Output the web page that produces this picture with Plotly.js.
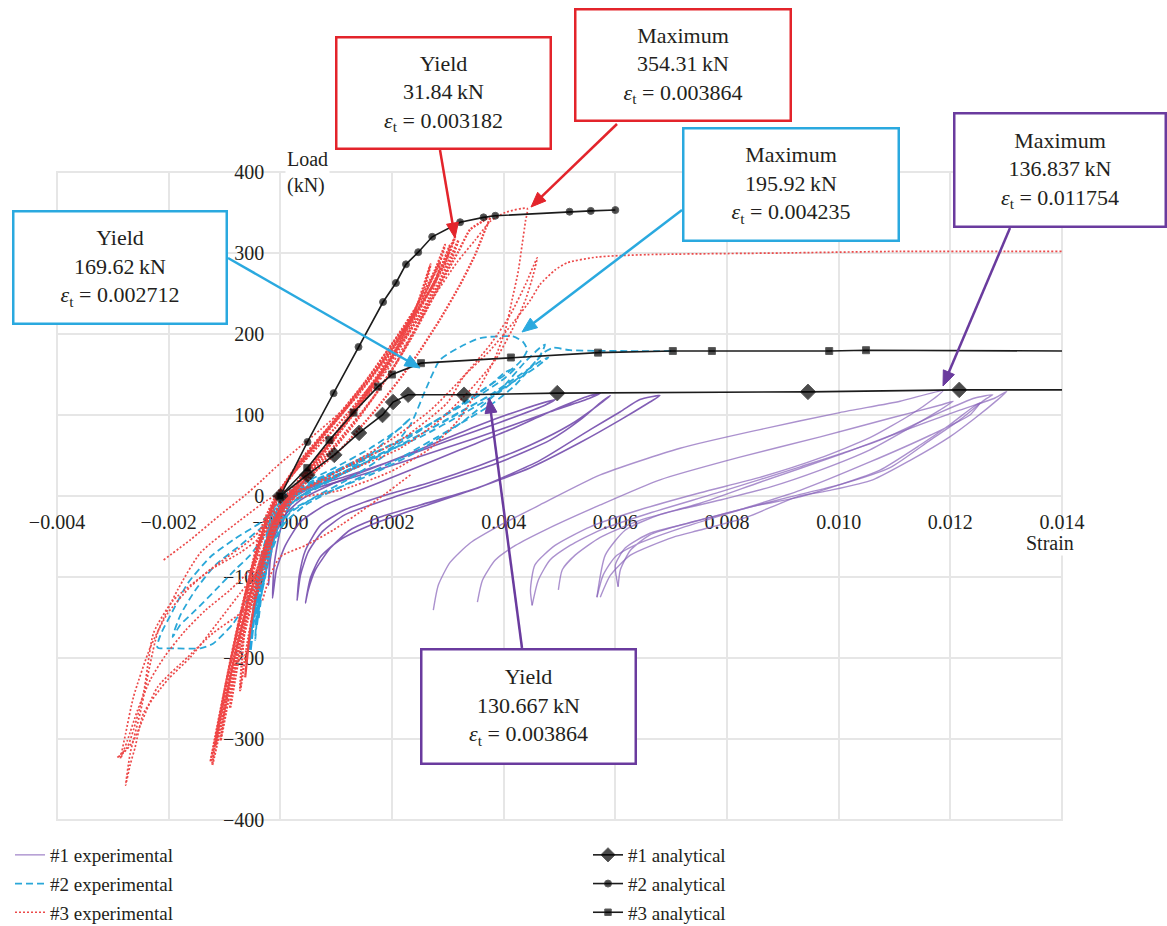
<!DOCTYPE html>
<html>
<head>
<meta charset="utf-8">
<script src="https://cdn.plot.ly/plotly-3.0.1.min.js"></script>
<style>html,body{margin:0;padding:0;background:#fff;}#chart{width:1167px;height:926px;}</style>
</head>
<body>
<div id="chart"></div>
<script>
// ---------- Axis ticks ----------
const xTickVals = [-0.004,-0.002,0,0.002,0.004,0.006,0.008,0.010,0.012,0.014];
const xTickText = ['\u22120.004','\u22120.002','\u22120.000','0.002','0.004','0.006','0.008','0.010','0.012','0.014'];
const yTickVals = [-400,-300,-200,-100,0,100,200,300,400];
const yTickText = ['\u2212400','\u2212300','\u2212200','\u2212100','0','100','200','300','400'];

// ---------- Analytical curves ----------
const an1x = [0,0.000483,0.000967,0.00141,0.00183,0.00202,0.00229,0.00329,0.00496,0.00945,0.01216,0.014];
const an1y = [0,26,50.7,77.9,100,116,125,125,127,128.6,131,131];
const an2x = [0,0.000486,0.000954,0.0014,0.00184,0.00207,0.00225,0.00247,0.00272,0.00322,0.00364,0.00385,0.00518,0.00556,0.006];
const an2y = [0,66.7,127,184,239.5,263,286,301,320,338,344,346,351,352,353];
const an3x = [0,0.000483,0.00088,0.00131,0.00175,0.002,0.00252,0.00413,0.00569,0.00703,0.00773,0.00983,0.01049,0.014];
const an3y = [0,34.6,69,103,135,150,164,171,177,179,179,179,180,179];

// ---------- #1 experimental (purple) ----------
const p1x=[0.00274,0.00283,0.00304,0.0034,0.00394,0.00465,0.00573,0.00716,0.00859,0.01002,0.0111,0.01187,0.01172,0.01128,0.01056,0.00967,0.00859,0.00752,0.00644,0.00555,0.00492,0.00456,0.00448,0.00451];
const p1y=[-141,-110,-82,-58,-36,-11,26,59,82,103,117,130,121,100,72,47,23,4,-17,-38,-61,-85,-116,-135];
const p2x=[0.00353,0.00362,0.00385,0.00421,0.00474,0.00573,0.0068,0.00823,0.00967,0.01092,0.01181,0.01205,0.01181,0.01137,0.01056,0.00967,0.00877,0.00788,0.0068,0.00618,0.00582,0.00567];
const p2y=[-131,-104,-79,-61,-42,-11,20,48,73,96,112,117,106,88,57,32,11,-5,-23,-42,-73,-125];
const p3x=[0.00451,0.00462,0.00483,0.00519,0.00573,0.00662,0.00788,0.00931,0.01074,0.01181,0.01244,0.01276,0.01262,0.01217,0.01164,0.01092,0.01002,0.00913,0.00823,0.00734,0.00662,0.00618,0.006,0.00605];
const p3y=[-135,-104,-79,-61,-42,-21,5,36,69,103,121,125,119,94,69,35,14,-1,-17,-33,-46,-64,-85,-112];
const p4x=[0.00498,0.00505,0.00528,0.00573,0.00644,0.00752,0.00859,0.01002,0.0111,0.01217,0.0128,0.01301,0.01285,0.01244,0.01199,0.01128,0.01061,0.00985,0.00925,0.00836,0.00752,0.00703,0.00627,0.00591,0.00573];
const p4y=[-116,-91,-73,-51,-30,-9,17,51,79,106,121,129,119,96,73,44,20,7,-1,-26,-42,-51,-73,-98,-125];
const p5x=[0.00567,0.00578,0.006,0.00644,0.00716,0.00823,0.00931,0.01056,0.01164,0.01235,0.01253,0.01239,0.01199,0.01146,0.01074,0.01002,0.00931,0.00859,0.00788,0.00716,0.00662,0.00627,0.00609,0.00605];
const p5y=[-125,-98,-75,-58,-40,-17,7,42,75,100,115,109,88,63,32,14,-1,-11,-23,-36,-48,-67,-91,-112];
const s1x=[-0.00014,-0.00007,0.00009,0.00036,0.00081,0.00143,0.00233,0.00322,0.00412,0.00489,0.00555,0.00573,0.00555,0.00483,0.00394,0.00304,0.00215,0.00125,0.00054,0.00018,0,-0.00011,-0.00014];
const s1y=[-126,-91,-61,-32,-11,7,32,57,82,106,124,127,121,104,82,61,41,22,7,-11,-42,-85,-126];
const s2x=[0.0003,0.00036,0.0005,0.00075,0.00116,0.00188,0.00286,0.00394,0.00483,0.00537,0.00573,0.00591,0.00569,0.00519,0.00448,0.00358,0.00269,0.00179,0.00116,0.00072,0.00045,0.00034,0.0003];
const s2y=[-129,-98,-69,-44,-23,-5,17,42,69,94,115,124,112,88,63,38,17,-1,-17,-36,-67,-98,-129];
const s3x=[0.00045,0.00054,0.00072,0.00107,0.00161,0.00251,0.00358,0.00465,0.00555,0.00609,0.00644,0.0068,0.00662,0.00609,0.00537,0.00448,0.0034,0.00251,0.00179,0.00125,0.0009,0.00063,0.0005,0.00045];
const s3y=[-132,-101,-75,-54,-36,-14,11,44,82,104,119,124,116,94,66,35,7,-11,-26,-42,-64,-91,-116,-132];
const s4x=[-0.00021,-0.00018,-0.00009,0.00009,0.00036,0.0009,0.00179,0.00269,0.00358,0.0043,0.00492,0.00474,0.00394,0.00304,0.00215,0.00125,0.00054,0.00018,-0.00004,-0.00018,-0.00021];
const s4y=[-110,-79,-48,-23,-5,14,38,63,88,106,119,112,91,69,47,26,10,-5,-30,-67,-110];

// ---------- #2 experimental (blue) ----------
const b1x=[-0.00054,-0.00047,-0.00036,-0.00021,0,0.00036,0.00107,0.00179,0.00251,0.00322,0.00376,0.00403,0.00421,0.00403,0.00358,0.00286,0.00215,0.00143,0.00072,0.00027,-0.00004,-0.00027,-0.00043,-0.00054];
const b1y=[-178,-129,-79,-42,-11,7,32,57,82,112,137,153,158,146,125,96,69,44,22,5,-23,-67,-129,-178];
const b2x=[-0.00045,-0.00036,-0.00021,0.00004,0.00045,0.00125,0.00215,0.00304,0.00376,0.0043,0.00465,0.0048,0.00456,0.00394,0.00322,0.00233,0.00143,0.00063,0.00018,-0.00009,-0.00032,-0.00045];
const b2y=[-129,-85,-48,-17,4,32,63,96,125,150,166,171,158,131,104,69,38,14,-5,-36,-79,-129];
const b3x=[-0.00039,-0.0003,-0.00014,0.00014,0.00063,0.00125,0.00188,0.00233,0.0026,0.00286,0.00322,0.00358,0.00417,0.00435,0.00442,0.0043,0.00403,0.00358,0.00286,0.00215,0.00143,0.00072,0.00027,0,-0.00021,-0.00036,-0.00039];
const b3y=[-153,-104,-61,-23,-1,22,51,88,131,168,184,195,197,190,180,166,150,129,96,66,38,14,-5,-30,-79,-129,-153];
const b4x=[-0.00032,-0.00018,0.00005,0.00045,0.00125,0.00215,0.00304,0.00376,0.00421,0.00448,0.00474,0.00489,0.00519,0.00609,0.00703];
const b4y=[-116,-73,-36,-11,17,47,82,112,137,158,178,183,180,179,179];
const b5x=[-0.00027,-0.00009,0.00021,0.00072,0.00161,0.00251,0.00331,0.00394,0.00439,0.00465,0.00474,0.00465,0.00439,0.00394,0.00331,0.00251,0.00161,0.00072,0.00018,-0.00014,-0.00027];
const b5y=[-79,-42,-17,1,26,57,94,131,166,183,187,173,153,129,103,73,47,23,5,-17,-79];
const b6x=[-0.00045,-0.00039,-0.00029,-0.00014,0.00009,0.00054,0.00107,0.00161,0.00206,0.00233,0.00215,0.00161,0.00098,0.00036,0.00004,-0.00018,-0.00032,-0.00041,-0.00045];
const b6y=[-178,-129,-79,-42,-15,5,26,51,79,96,84,59,35,14,-2,-30,-79,-129,-178];
const b7x=[-0.00054,-0.00048,-0.00039,-0.00027,-0.00013,0.00004,0.00036,0.0009,0.00143];
const b7y=[-190,-153,-110,-67,-30,-9,7,22,38];
const b8x=[-0.00043,-0.00036,-0.00025,-0.00014,-0.00004,0.00011,0.00045,0.00098,0.00161];
const b8y=[-159,-122,-79,-48,-23,-5,10,30,51];
const bl1x=[0,-0.00036,-0.00084,-0.00125,-0.00166,-0.00192,-0.00215,-0.0022,-0.00188,-0.00143,-0.0012,-0.00084,-0.00059,-0.00041,-0.00027,-0.00014,0];
const bl1y=[-11,-33,-54,-75,-108,-141,-172,-187,-188,-188,-182,-157,-129,-100,-67,-36,-11];
const bl2x=[0,-0.00032,-0.00072,-0.00116,-0.00152,-0.00179,-0.00193,-0.00179,-0.00152,-0.00116,-0.00081,-0.00054,-0.00027,0];
const bl2y=[-20,-38,-61,-85,-116,-147,-174,-159,-141,-116,-91,-73,-48,-23];

// ---------- #3 experimental (red) ----------
const rb1x=[-0.00122,-0.00104,-0.00081,-0.00054,-0.00027,0,0.00036,0.0009,0.00152,0.00215,0.00269,0.00301,0.00313,0.00304,0.00283,0.00242,0.00188,0.00125,0.00063,0.00018,-0.00014,-0.00039,-0.00066,-0.00093,-0.00113,-0.00122];
const rb1y=[-332,-277,-203,-129,-67,-17,20,69,125,187,255,302,320,302,273,224,171,116,63,26,-11,-61,-129,-215,-289,-332];
const rb2x=[-0.0009,-0.00075,-0.00054,-0.0003,-0.00007,0.00021,0.00072,0.00134,0.00197,0.00242,0.00269,0.0026,0.00233,0.00179,0.00116,0.00054,0.00009,-0.00018,-0.00043,-0.00066,-0.00082,-0.0009];
const rb2y=[-262,-203,-141,-79,-30,5,51,106,168,230,286,261,218,162,106,54,14,-23,-79,-153,-215,-262];
const rb3x=[-0.00063,-0.00054,-0.00039,-0.00021,0.00004,0.00036,0.00098,0.0017,0.00233,0.00286,0.00319,0.0034,0.00362,0.00376,0.00367,0.00349,0.00322,0.00286,0.00233,0.0017,0.00107,0.00045,0.00009,-0.00018,-0.00039,-0.00054,-0.00063];
const rb3y=[-224,-166,-104,-54,-15,14,63,125,193,261,302,329,339,345,329,298,261,218,162,106,57,20,-5,-42,-104,-166,-224];
const rb4x=[-0.00116,-0.00098,-0.00075,-0.0005,-0.00023,0.00004,0.00045,0.00107,0.00175,0.00236,0.00277,0.00295,0.00286,0.0026,0.00211,0.00152,0.0009,0.00036,0,-0.00025,-0.0005,-0.00075,-0.001,-0.00116];
const rb4y=[-308,-252,-178,-110,-54,-11,30,84,150,224,279,310,289,252,199,141,88,44,7,-30,-85,-159,-246,-308];
const rb5x=[-0.00072,-0.00061,-0.00045,-0.00027,-0.00005,0.00021,0.00072,0.0014,0.00206,0.0026,0.00299,0.00319,0.00308,0.00281,0.00233,0.0017,0.00098,0.00036,-0.00004,-0.00032,-0.00054,-0.00066,-0.00072];
const rb5y=[-240,-190,-129,-79,-36,-5,38,96,162,230,286,316,294,257,205,143,84,38,5,-36,-98,-178,-240];
const rb6x=[-0.00107,-0.00093,-0.00072,-0.00047,-0.00021,0.00007,0.0005,0.00116,0.00184,0.00242,0.00286,0.00279,0.00251,0.002,0.0014,0.00075,0.00027,-0.00005,-0.00032,-0.00057,-0.00081,-0.00098,-0.00107];
const rb6y=[-302,-252,-184,-116,-61,-15,26,88,156,224,289,267,236,187,129,75,35,-1,-48,-110,-190,-258,-302];
const rb7x=[-0.00125,-0.00111,-0.0009,-0.00066,-0.00039,-0.00013,0.00021,0.00075,0.0014,0.00206,0.00265,0.00304,0.00297,0.00269,0.00218,0.00158,0.00093,0.00039,0.00004,-0.00021,-0.00047,-0.00075,-0.001,-0.00118,-0.00125];
const rb7y=[-328,-283,-221,-153,-85,-33,5,51,109,174,242,310,289,255,199,141,88,44,10,-23,-79,-159,-240,-302,-328];
const rt1x=[-0.00032,0.00004,0.00072,0.00152,0.00224,0.00277,0.00317,0.00349,0.00376,0.00403,0.00442,0.00439,0.00433,0.00426,0.00415,0.00403,0.00383,0.00354,0.00319,0.00269,0.00197,0.00107,0.00018,-0.00032];
const rt1y=[-54,-5,51,119,187,248,289,316,339,350,355,339,310,277,242,205,168,131,94,59,30,7,-5,-30];
const rsx=[0.00036,0.00107,0.00197,0.00269,0.00322,0.00376,0.00412,0.00439,0.0046,0.00453,0.00439,0.00415,0.00385,0.0034,0.00286,0.00215,0.00125,0.00036];
const rsy=[5,32,69,106,143,187,224,261,294,273,242,205,168,131,94,59,32,7];
const rlx=[-0.00009,0.00036,0.00125,0.00215,0.00299,0.00328,0.00376,0.00417,0.00448,0.00465,0.00492,0.00514,0.00567,0.00657,0.00895,0.0111,0.014];
const rly=[-11,7,38,69,115,147,180,214,242,261,279,288,295,298,300,302,302];
const l1x=[0.00009,-0.00023,-0.00072,-0.00143,-0.00184,-0.0022,-0.00251,-0.00269,-0.00277,-0.00269,-0.0026,-0.00245,-0.00202,-0.00161,-0.00113,-0.00072,-0.00039,-0.00018,0,0.00027];
const l1y=[7,-5,-30,-70,-116,-169,-268,-318,-357,-332,-310,-268,-227,-199,-157,-120,-91,-61,-23,7];
const l2x=[0,-0.00048,-0.0012,-0.00192,-0.00227,-0.00245,-0.00274,-0.00292,-0.00279,-0.00263,-0.0022,-0.00166,-0.0012,-0.00072,-0.00045,-0.00027,-0.00009,0.00009];
const l2y=[-11,-51,-88,-129,-169,-243,-310,-323,-316,-302,-236,-199,-169,-145,-126,-91,-42,-11];
const l3x=[0.00018,-0.00013,-0.00036,-0.00072,-0.00125,-0.00161,-0.00202,-0.00233,-0.00263,-0.00277,-0.00286,-0.00274,-0.00256,-0.00233,-0.00206,-0.0017,-0.00134,-0.0009,-0.00054,-0.00027,0];
const l3y=[7,-30,-51,-70,-91,-112,-145,-187,-248,-293,-324,-302,-265,-227,-197,-166,-141,-116,-91,-61,-17];
const l4x=[-0.00209,-0.00161,-0.00107,-0.00063,-0.00032,-0.00009,0.00018,0.00072,0.00143];
const l4y=[-79,-54,-23,1,20,35,51,82,125];
const l5x=[-0.00032,-0.00018,0,0.00045,0.00095,0.00161,0.00233];
const l5y=[-129,-98,-75,-61,-42,-11,26];

// ---------- Styles ----------
const FONT = 'Liberation Serif, Times New Roman, serif';
const purpleLine = {color:'rgba(135,98,185,0.7)', width:1.4, shape:'spline', smoothing:0.6};
const purpleDark = {color:'rgba(108,66,168,0.85)', width:1.6, shape:'spline', smoothing:0.6};
const blueLine = {color:'#2aa7d8', width:1.8, dash:'7px,4px', shape:'spline', smoothing:0.6};
const blueThick = {color:'#22a4e0', width:3.2, dash:'9px,2px', shape:'spline', smoothing:0.6};
const redLine = {color:'#ec4a4a', width:1.7, dash:'2px,2px', shape:'spline', smoothing:0.6};
const redBand = {color:'#ef4545', width:2.3, dash:'2px,1.5px', shape:'spline', smoothing:0.6};

function expTrace(x, y, line, name, group, first) {
  return {x:x, y:y, type:'scatter', mode:'lines', line:line, name:name,
          legendgroup:group, showlegend:first, legend:'legend', hoverinfo:'skip'};
}

const traces = [];
const purpleSet = [[p1x,p1y],[p2x,p2y],[p3x,p3y],[p4x,p4y],[p5x,p5y]];
purpleSet.forEach((d,i)=>traces.push(expTrace(d[0],d[1],purpleLine,'#1 experimental','e1',i===0)));
const purpleNear = [[s1x,s1y],[s2x,s2y],[s3x,s3y],[s4x,s4y]];
purpleNear.forEach(d=>traces.push(expTrace(d[0],d[1],purpleDark,'#1 experimental','e1',false)));
const blueSet = [[b1x,b1y],[b2x,b2y],[b3x,b3y],[b4x,b4y],[b5x,b5y],[b6x,b6y],[bl1x,bl1y],[bl2x,bl2y]];
blueSet.forEach((d,i)=>traces.push(expTrace(d[0],d[1],blueLine,'#2 experimental','e2',i===0)));
const blueCore = [[b7x,b7y],[b8x,b8y]];
blueCore.forEach(d=>traces.push(expTrace(d[0],d[1],blueThick,'#2 experimental','e2',false)));
const redSet = [[rt1x,rt1y],[rsx,rsy],[rlx,rly],[l1x,l1y],[l2x,l2y],[l3x,l3y],[l4x,l4y],[l5x,l5y]];
redSet.forEach((d,i)=>traces.push(expTrace(d[0],d[1],redLine,'#3 experimental','e3',i===0)));
const redBandSet = [[rb1x,rb1y],[rb2x,rb2y],[rb3x,rb3y],[rb4x,rb4y],[rb5x,rb5y],[rb6x,rb6y],[rb7x,rb7y]];
redBandSet.forEach(d=>traces.push(expTrace(d[0],d[1],redBand,'#3 experimental','e3',false)));

function anTrace(x, y, symbol, size, name, group, hideLast) {
  const sizes = x.map((v,i)=> (hideLast && i===x.length-1) ? 0 : size);
  return {x:x, y:y, type:'scatter', mode:'lines+markers', name:name, legend:'legend2', legendgroup:group,
          line:{color:'#1c1c1c', width:1.6},
          marker:{symbol:symbol, size:sizes, color:'#000'}, hoverinfo:'skip'};
}
traces.push(anTrace(an1x, an1y, 'diamond', 12, '#1 analytical', 'a1', true));
traces.push(anTrace(an2x, an2y, 'circle', 7, '#2 analytical', 'a2', false));
traces.push(anTrace(an3x, an3y, 'square', 7, '#3 analytical', 'a3', true));

// ---------- Annotation geometry (pixel layout) ----------
const L = 57, T = 172, PW = 1005, PH = 648;
function px2paperX(px){ return (px - L) / PW; }
function px2paperY(py){ return (T + PH - py) / PH; }
const boxFont = {family: FONT, size: 22, color: '#231f20'};
function box(cx, cy, w, h, color, lines) {
  return {xref:'paper', yref:'paper', x:px2paperX(cx), y:px2paperY(cy), xanchor:'center', yanchor:'middle',
          text: lines.join('<br>'), showarrow:false, align:'center', valign:'middle',
          bordercolor: color, borderwidth: 2.5, borderpad: 0, bgcolor: '#fff',
          width: w, height: h, font: boxFont};
}
// arrow = line shape + filled triangle head (pixel tail -> pixel head)
function arrowShapes(tx, ty, hx, hy, color) {
  const dx = hx - tx, dy = hy - ty, len = Math.sqrt(dx*dx + dy*dy);
  const ux = dx/len, uy = dy/len, headLen = 15, headHalf = 6;
  const bx = hx - ux*headLen, by = hy - uy*headLen;
  const nx = -uy, ny = ux;
  const p1 = [hx, hy], p2 = [bx + nx*headHalf, by + ny*headHalf], p3 = [bx - nx*headHalf, by - ny*headHalf];
  const P = p => px2paperX(p[0]) + ',' + px2paperY(p[1]);
  return [
    {type:'line', xref:'paper', yref:'paper', x0:px2paperX(tx), y0:px2paperY(ty), x1:px2paperX(bx + ux*2), y1:px2paperY(by + uy*2),
     line:{color:color, width:2.5}, layer:'above'},
    {type:'path', xref:'paper', yref:'paper', path:'M' + P(p1) + ' L' + P(p2) + ' L' + P(p3) + ' Z',
     fillcolor:color, line:{color:color, width:1}, layer:'above'}
  ];
}
const RED = '#e3242b', BLUE = '#2aa9df', PURPLE = '#6a3b9e';
const eps = '<i>\u03b5</i><sub>t</sub> = ';
const annotations = [
  box(443.5, 93, 212, 109, RED, ['Yield', '31.84\u2009kN', eps + '0.003182']),
  box(683, 65, 213, 109, RED, ['Maximum', '354.31\u2009kN', eps + '0.003864']),
  box(791, 184.5, 213, 110, BLUE, ['Maximum', '195.92\u2009kN', eps + '0.004235']),
  box(1060, 170, 209, 111, PURPLE, ['Maximum', '136.837\u2009kN', eps + '0.011754']),
  box(120, 267.5, 211, 110, BLUE, ['Yield', '169.62\u2009kN', eps + '0.002712']),
  box(528.5, 706.5, 212, 112, PURPLE, ['Yield', '130.667\u2009kN', eps + '0.003864']),
  {xref:'paper', yref:'paper', x:px2paperX(285), y:px2paperY(172), xanchor:'left', yanchor:'middle',
   text:'Load<br>(kN)', showarrow:false, align:'left', bgcolor:'#fff',
   font:{family:FONT, size:20, color:'#231f20'}},
  {xref:'paper', yref:'paper', x:px2paperX(1050), y:px2paperY(543), xanchor:'center', yanchor:'middle',
   text:'Strain', showarrow:false, bgcolor:'#fff',
   font:{family:FONT, size:20, color:'#231f20'}}
];

const shapes = [{type:'rect', xref:'paper', yref:'paper', x0:0, x1:1, y0:0, y1:1,
                 line:{color:'#e6e6e6', width:2}, layer:'below'}]
  .concat(arrowShapes(440, 150, 455, 238, RED))
  .concat(arrowShapes(617, 124, 531, 207, RED))
  .concat(arrowShapes(682, 210, 522, 332, BLUE))
  .concat(arrowShapes(228, 258, 420, 368, BLUE))
  .concat(arrowShapes(1010, 228, 943, 386, PURPLE))
  .concat(arrowShapes(522, 648, 489, 398, PURPLE));

const layout = {
  width: 1167, height: 926,
  margin: {l: L, r: 1167 - L - PW, t: T, b: 926 - T - PH, pad: 0, autoexpand: false},
  paper_bgcolor: '#fff', plot_bgcolor: '#fff',
  font: {family: FONT, size: 19, color: '#231f20'},
  showlegend: true,
  xaxis: {range: [-0.004, 0.014], tickvals: xTickVals, ticktext: xTickText,
          anchor: 'free', position: 0.5, showgrid: true, gridcolor: '#e6e6e6', gridwidth: 2,
          zeroline: false, showline: false, ticks: '', ticklabelstandoff: 12,
          tickfont: {family: FONT, size: 20, color: '#231f20'}, layer: 'below traces', fixedrange: true},
  yaxis: {range: [-400, 400], tickvals: yTickVals, ticktext: yTickText,
          anchor: 'free', position: 0.2222222, showgrid: true, gridcolor: '#e6e6e6', gridwidth: 2,
          zeroline: false, showline: false, ticks: '', ticklabelstandoff: 16,
          tickfont: {family: FONT, size: 20, color: '#231f20'}, layer: 'below traces', fixedrange: true},
  shapes: shapes,
  legend: {x: px2paperX(10), y: px2paperY(836), xanchor:'left', yanchor:'top', orientation:'v',
           bgcolor:'rgba(0,0,0,0)', font:{family: FONT, size: 19, color:'#231f20'},
           traceorder:'grouped', tracegroupgap: 1},
  legend2: {x: px2paperX(588), y: px2paperY(836), xanchor:'left', yanchor:'top', orientation:'v',
           bgcolor:'rgba(0,0,0,0)', font:{family: FONT, size: 19, color:'#231f20'},
           traceorder:'grouped', tracegroupgap: 1},
  annotations: annotations
};

Plotly.newPlot('chart', traces, layout, {displayModeBar: false, staticPlot: true});
</script>
</body>
</html>
